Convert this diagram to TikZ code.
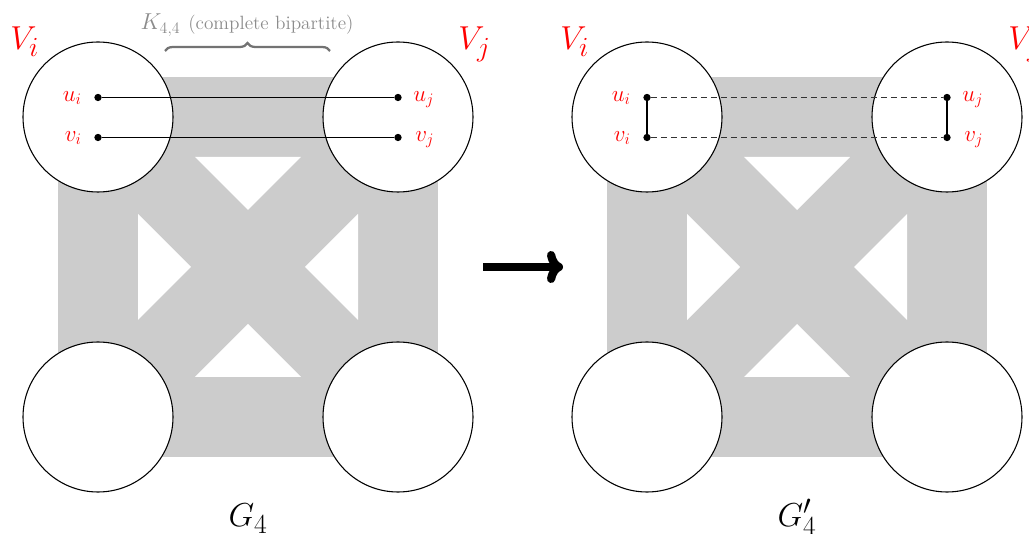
\documentclass[tikz,border=0pt]{standalone}
\usetikzlibrary{decorations.pathreplacing,arrows.meta}
\begin{document}
\begin{tikzpicture}[x=0.75pt,y=-0.75pt,
  bigcirc/.style={circle,draw,fill=white,line width=0.8pt,minimum size=112.5pt,inner sep=0pt},
  dotnode/.style={circle,fill=black,inner sep=0pt,minimum size=5.5pt},
  setlbl/.style={text=red,font=\fontsize{24.88}{29}\selectfont},
  vlbl/.style={text=red,font=\fontsize{17.28}{20}\selectfont},
  glbl/.style={font=\fontsize{24.88}{29}\selectfont},
  bg/.style={fill=black!20},
  hole/.style={fill=white},
  edge/.style={line width=0.9pt},
  dashedge/.style={line width=0.85pt,dash pattern=on 4.5pt off 3pt,black!80},
  bigarrow/.style={line width=6.2pt,-{To[length=12pt,width=24pt,round]}}]
\useasboundingbox (0,0) rectangle (1029,534);

% ---------- left panel ----------
\fill[bg] (58,77) rectangle (438,457);
\fill[hole] (195,157) -- (301,157) -- (248,210) -- cycle;
\fill[hole] (138,214) -- (138,320) -- (191,267) -- cycle;
\fill[hole] (358,214) -- (358,320) -- (305,267) -- cycle;
\fill[hole] (195,377) -- (301,377) -- (248,324) -- cycle;
\node[bigcirc] (LA) at (98,117) {};
\node[bigcirc] (LB) at (398,117) {};
\node[bigcirc] (LC) at (98,417) {};
\node[bigcirc] (LD) at (398,417) {};
\node[dotnode] (Lui) at (98,97.5) {};
\node[dotnode] (Lvi) at (98,137.5) {};
\node[dotnode] (Luj) at (398,97.5) {};
\node[dotnode] (Lvj) at (398,137.5) {};
\draw[edge] (Lui) -- (Luj);
\draw[edge] (Lvi) -- (Lvj);
\node[vlbl,anchor=base east,inner sep=0pt] (Luil) at (82,101.5) {$u_i$};
\node[vlbl,anchor=base east,inner sep=0pt] (Lvil) at (82,141.5) {$v_i$};
\node[vlbl,anchor=base west,inner sep=0pt] (Lujl) at (413,101.5) {$u_j$};
\node[vlbl,anchor=base west,inner sep=0pt] (Lvjl) at (415,141.5) {$v_j$};
\node[setlbl,anchor=base west,inner sep=0pt] (LVi) at (10,50) {$V_i$};
\node[setlbl,anchor=base west,inner sep=0pt] (LVj) at (458,50) {$V_j$};
\coordinate (braceL) at (165,51);
\coordinate (braceR) at (330,51);
\draw[decorate,decoration={brace,amplitude=6pt},line width=1.7pt,black!55] (braceL) -- (braceR);
\node[text=black!45,anchor=base,inner sep=0pt] (Klbl) at (247,30)
  {\fontsize{17.28}{20}\selectfont$K_{4,4}$\hspace{6pt}\fontsize{14.4}{17}\selectfont(complete bipartite)};
\node[glbl,anchor=base,inner sep=0pt] (LG) at (248,527) {$G_4$};

% ---------- arrow ----------
\coordinate (arrA) at (483,267);
\coordinate (arrB) at (563,267);
\draw[bigarrow] (arrA) -- (arrB);

% ---------- right panel ----------
\begin{scope}[shift={(549,0)}]
\fill[bg] (58,77) rectangle (438,457);
\fill[hole] (195,157) -- (301,157) -- (248,210) -- cycle;
\fill[hole] (138,214) -- (138,320) -- (191,267) -- cycle;
\fill[hole] (358,214) -- (358,320) -- (305,267) -- cycle;
\fill[hole] (195,377) -- (301,377) -- (248,324) -- cycle;
\node[bigcirc] (RA) at (98,117) {};
\node[bigcirc] (RB) at (398,117) {};
\node[bigcirc] (RC) at (98,417) {};
\node[bigcirc] (RD) at (398,417) {};
\node[dotnode] (Rui) at (98,97.5) {};
\node[dotnode] (Rvi) at (98,137.5) {};
\node[dotnode] (Ruj) at (398,97.5) {};
\node[dotnode] (Rvj) at (398,137.5) {};
\draw[dashedge] (Rui) -- (Ruj);
\draw[dashedge] (Rvi) -- (Rvj);
\draw[edge] (Rui) -- (Rvi);
\draw[edge] (Ruj) -- (Rvj);
\node[vlbl,anchor=base east,inner sep=0pt] (Ruil) at (82,101.5) {$u_i$};
\node[vlbl,anchor=base east,inner sep=0pt] (Rvil) at (82,141.5) {$v_i$};
\node[vlbl,anchor=base west,inner sep=0pt] (Rujl) at (413,101.5) {$u_j$};
\node[vlbl,anchor=base west,inner sep=0pt] (Rvjl) at (415,141.5) {$v_j$};
\node[setlbl,anchor=base west,inner sep=0pt] (RVi) at (11,50) {$V_i$};
\node[setlbl,anchor=base west,inner sep=0pt] (RVj) at (459,50) {$V_j$};
\node[glbl,anchor=base,inner sep=0pt] (RG) at (248,527) {$G'_4$};
\end{scope}
\end{tikzpicture}
\end{document}
